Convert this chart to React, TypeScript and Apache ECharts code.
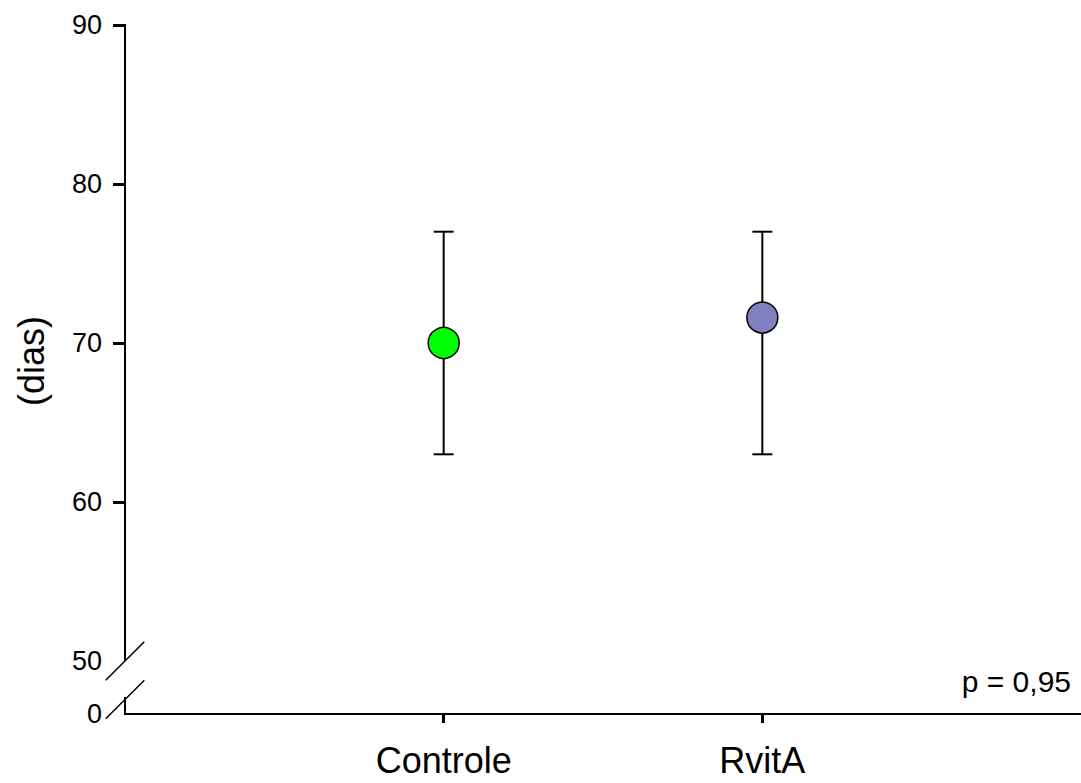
import React, { useEffect, useRef } from "react";
import * as echarts from "echarts";

const categories = ["Controle", "RvitA"];
const means = [70.0, 71.6];
const lowerErr = [63, 63];
const upperErr = [77, 77];
const yTickValues = [60, 70, 80, 90];
const yLabelValues = [46.667, 50, 60, 70, 80, 90];
const yMin = 46.667;
const yMax = 90;
const breakValue = 50;
const pText = "p = 0,95";
const colors = ["#00ff00", "#8080c0"];

export default function App() {
  const ref = useRef<HTMLDivElement>(null);
  useEffect(() => {
    if (!ref.current) return;
    const chart = echarts.init(ref.current, undefined, { renderer: "svg" });
    const font = "'Liberation Sans', Arial, sans-serif";
    chart.setOption({
      animation: false,
      grid: { left: 125, right: 0, top: 25, bottom: 69, containLabel: false },
      xAxis: {
        type: "value",
        min: 0,
        max: categories.length + 1,
        splitLine: { show: false },
        axisLine: { show: true, lineStyle: { color: "#000", width: 2 } },
        axisTick: {
          show: true,
          customValues: categories.map((_, i) => i + 1),
          length: 9,
          inside: false,
          lineStyle: { color: "#000", width: 3 },
        },
        axisLabel: {
          customValues: categories.map((_, i) => i + 1),
          formatter: (v: number) => categories[Math.round(v) - 1] ?? "",
          fontSize: 36,
          fontFamily: font,
          color: "#000",
          margin: 28,
        },
      },
      yAxis: {
        type: "value",
        min: yMin,
        max: yMax,
        splitLine: { show: false },
        axisLine: { show: false },
        axisTick: {
          show: true,
          customValues: yTickValues,
          length: 12,
          lineStyle: { color: "#000", width: 3 },
        },
        axisLabel: {
          customValues: yLabelValues,
          formatter: (v: number) => (v < breakValue ? "0" : String(Math.round(v))),
          fontSize: 27,
          fontFamily: font,
          color: "#000",
          margin: 23,
        },
      },
      series: [
        {
          type: "custom",
          z: 2,
          data: categories.map((_, i) => [i + 1, lowerErr[i], upperErr[i]]),
          renderItem: (params: any, api: any) => {
            const x = api.value(0);
            const lo = api.coord([x, api.value(1)]);
            const hi = api.coord([x, api.value(2)]);
            const hw = 10;
            const style = { stroke: "#000", lineWidth: 2 };
            return {
              type: "group",
              children: [
                { type: "line", shape: { x1: lo[0], y1: lo[1], x2: hi[0], y2: hi[1] }, style },
                { type: "line", shape: { x1: lo[0] - hw, y1: lo[1], x2: lo[0] + hw, y2: lo[1] }, style },
                { type: "line", shape: { x1: hi[0] - hw, y1: hi[1], x2: hi[0] + hw, y2: hi[1] }, style },
              ],
            };
          },
        },
        {
          type: "scatter",
          z: 3,
          symbol: "circle",
          symbolSize: 31,
          data: categories.map((_, i) => ({
            value: [i + 1, means[i]],
            itemStyle: { color: colors[i], borderColor: "#000", borderWidth: 1.5, opacity: 1 },
          })),
        },
      ],
    });

    const pTop = chart.convertToPixel({ gridIndex: 0 }, [0, yMax]) as number[];
    const pBreak = chart.convertToPixel({ gridIndex: 0 }, [0, breakValue]) as number[];
    const pBottom = chart.convertToPixel({ gridIndex: 0 }, [0, yMin]) as number[];
    const ax = pTop[0];
    const sl = 19.3;
    const lowerCenter = pBreak[1] + 38.5;
    const lowerStart = lowerCenter - 2.5;
    const ls = { stroke: "#000", lineWidth: 2 };
    chart.setOption({
      graphic: [
        { type: "line", shape: { x1: ax, y1: pTop[1] - 1, x2: ax, y2: pBreak[1] }, style: ls },
        { type: "line", shape: { x1: ax, y1: lowerStart, x2: ax, y2: pBottom[1] + 1 }, style: ls },
        { type: "line", shape: { x1: ax - sl, y1: pBreak[1] + sl, x2: ax + sl, y2: pBreak[1] - sl }, style: { stroke: "#000", lineWidth: 1.5 } },
        { type: "line", shape: { x1: ax - sl, y1: lowerCenter + sl, x2: ax + sl, y2: lowerCenter - sl }, style: { stroke: "#000", lineWidth: 1.5 } },
        {
          type: "text",
          x: 31,
          y: 361,
          rotation: Math.PI / 2,
          style: { text: "(dias)", fontSize: 36, fontFamily: font, fill: "#000", align: "center", verticalAlign: "middle" },
        },
        {
          type: "text",
          x: 1071,
          y: 681,
          style: { text: pText, fontSize: 30, fontFamily: font, fill: "#000", align: "right", verticalAlign: "middle" },
        },
      ],
    });
    return () => chart.dispose();
  }, []);
  return <div ref={ref} style={{ width: 1081, height: 783, position: "absolute", left: 0, top: 0 }} />;
}
